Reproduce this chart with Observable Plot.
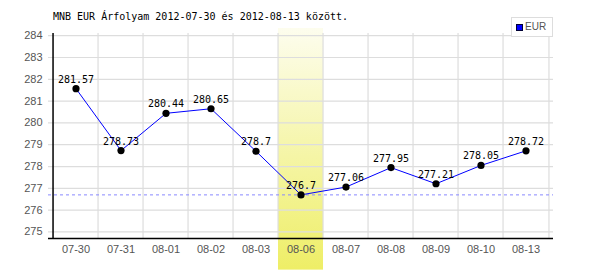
<!DOCTYPE html>
<html>
<head>
<meta charset="utf-8">
<script src="https://cdn.jsdelivr.net/npm/d3@7"></script>
<script src="https://cdn.jsdelivr.net/npm/@observablehq/plot@0.6"></script>
<style>
  body { margin: 0; background: #fff; }
  #wrap { position: relative; width: 600px; height: 270px; }
  #title { position: absolute; left: 53px; top: 11px; font: 10px "DejaVu Sans Mono", monospace; color: #000; white-space: pre; }
  #legend { position: absolute; left: 511px; top: 17px; width: 40px; height: 18px; border: 1px solid #ddd; background: #fff; font: 10px "Liberation Sans", Arial, sans-serif; color: #555; }
  #legend .sw { position: absolute; left: 4px; top: 6px; width: 5px; height: 5px; background: #0000ff; border: 1px solid #000033; }
  #legend .lb { position: absolute; left: 13px; top: 3px; }
</style>
</head>
<body>
<div id="wrap">
  <div id="chart"></div>
  <div id="title"></div>
  <div id="legend"><div class="sw"></div><div class="lb"></div></div>
</div>
<script>
const titleText = "MNB EUR Árfolyam 2012-07-30 és 2012-08-13 között.";
const seriesName = "EUR";
const dates = ["07-30", "07-31", "08-01", "08-02", "08-03", "08-06", "08-07", "08-08", "08-09", "08-10", "08-13"];
const rates = [281.57, 278.73, 280.44, 280.65, 278.7, 276.7, 277.06, 277.95, 277.21, 278.05, 278.72];
const labels = ["281.57", "278.73", "280.44", "280.65", "278.7", "276.7", "277.06", "277.95", "277.21", "278.05", "278.72"];
const yTicks = [275, 276, 277, 278, 279, 280, 281, 282, 283, 284];
const highlightDate = ["08-06"];
const minRate = [276.7];

document.getElementById("title").textContent = titleText;
document.querySelector("#legend .lb").textContent = seriesName;

const data = dates.map((d, i) => ({date: d, rate: rates[i], label: labels[i]}));

const plotW = 600, mL = 48, mR = 47;
const bw = (plotW - mL - mR) / dates.length;

const chart = Plot.plot({
  width: 600,
  height: 270,
  marginLeft: mL,
  marginRight: mR,
  marginTop: 33,
  marginBottom: 32,
  style: {fontFamily: "'Liberation Sans', Arial, sans-serif", fontSize: "11px", background: "transparent", overflow: "visible"},
  x: {type: "band", domain: dates, padding: 0, label: null},
  y: {domain: [274.7, 284.1], label: null},
  marks: [
    Plot.barY(highlightDate, {x: d => d, y1: 273.25, y2: 284.33, fill: "url(#hlgrad)"}),
    Plot.gridY(yTicks, {stroke: "#dddddd", strokeOpacity: 1, strokeWidth: 1.2}),
    Plot.ruleX(dates.slice(1), {x: d => d, y1: 274.7, y2: 284.1, dx: -bw / 2, stroke: "#dddddd", strokeWidth: 1.2}),
    Plot.ruleX(dates.slice(-1), {x: d => d, y1: 274.7, y2: 284.1, dx: bw / 2, stroke: "#dddddd", strokeWidth: 1.2}),
    Plot.ruleY(minRate, {stroke: "#8888ff", strokeDasharray: "3,3", strokeWidth: 1}),
    Plot.axisY({ticks: yTicks, tickSize: 0, tickPadding: 6, fill: "#555", fontSize: 11}),
    Plot.axisX({tickSize: 0, tickPadding: 7, fill: "#555", fontSize: 11}),
    Plot.ruleX([dates[0]], {x: d => d, y1: 274.7, y2: 284.1, dx: -bw / 2, stroke: "#000", strokeWidth: 1.5}),
    Plot.ruleY([274.7], {stroke: "#000", strokeWidth: 1.5}),
    Plot.line(data, {x: "date", y: "rate", stroke: "#0000ff", strokeWidth: 1}),
    Plot.dot(data, {x: "date", y: "rate", r: 3.6, fill: "#000", stroke: "none"}),
    Plot.text(data, {x: "date", y: "rate", text: "label", lineAnchor: "bottom", dy: -6, fill: "#000", fontSize: 10, fontFamily: "'DejaVu Sans Mono', monospace"})
  ]
});

const defs = d3.create("svg:defs");
const grad = defs.append("linearGradient").attr("id", "hlgrad").attr("x1", 0).attr("y1", 0).attr("x2", 0).attr("y2", 1);
grad.append("stop").attr("offset", "0%").attr("stop-color", "#fdfdee");
grad.append("stop").attr("offset", "100%").attr("stop-color", "#eeee66");
chart.insertBefore(defs.node(), chart.firstChild);

document.getElementById("chart").appendChild(chart);
</script>
</body>
</html>
